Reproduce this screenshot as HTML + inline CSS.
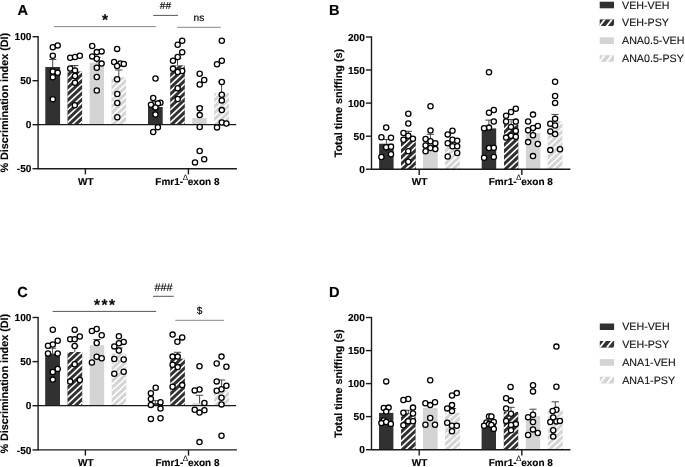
<!DOCTYPE html>
<html lang="en"><head><meta charset="utf-8"><title>Figure</title>
<style>
html,body{margin:0;padding:0;background:#fff;}
body{width:685px;height:467px;overflow:hidden;}
text[font-weight="700"]{stroke:#000;stroke-width:0.14px;}
svg{display:block;will-change:transform;font-family:"Liberation Sans",Arial,sans-serif;text-rendering:geometricPrecision;}
</style></head><body>
<svg width="685" height="467" viewBox="0 0 685 467">
<rect width="685" height="467" fill="#fff"/>

<g id="pA"><text x="17.6" y="15.2" font-size="14.6" font-weight="700">A</text><rect x="45.3" y="67.0" width="14.8" height="57.7" fill="#313131"/><rect x="67.50" y="71.50" width="14.60" height="53.20" fill="#313131"/><path d="M67.50 73.30L67.50 71.50L69.42 71.50ZM67.50 79.60L67.50 77.40L73.82 71.50L76.16 71.50ZM82.10 72.24L67.50 85.90L67.50 83.70L80.55 71.50L82.10 71.50ZM67.50 92.20L67.50 90.00L82.10 76.35L82.10 78.54ZM67.50 98.50L67.50 96.30L82.10 82.65L82.10 84.84ZM67.50 104.80L67.50 102.60L82.10 88.95L82.10 91.14ZM67.50 111.10L67.50 108.90L82.10 95.25L82.10 97.44ZM67.50 117.40L67.50 115.20L82.10 101.55L82.10 103.74ZM67.50 123.70L67.50 121.50L82.10 107.85L82.10 110.04ZM73.16 124.70L70.82 124.70L82.10 114.15L82.10 116.34ZM79.90 124.70L77.56 124.70L82.10 120.45L82.10 122.64Z" fill="#fff"/><rect x="89.6" y="62.8" width="14.4" height="61.9" fill="#d4d4d4"/><rect x="111.50" y="77.20" width="14.60" height="47.50" fill="#d4d4d4"/><path d="M111.50 79.60L111.50 77.40L111.72 77.20L114.06 77.20ZM111.50 85.90L111.50 83.70L118.46 77.20L120.80 77.20ZM126.10 78.54L111.50 92.20L111.50 90.00L125.19 77.20L126.10 77.20ZM111.50 98.50L111.50 96.30L126.10 82.65L126.10 84.84ZM111.50 104.80L111.50 102.60L126.10 88.95L126.10 91.14ZM111.50 111.10L111.50 108.90L126.10 95.25L126.10 97.44ZM111.50 117.40L111.50 115.20L126.10 101.55L126.10 103.74ZM111.50 123.70L111.50 121.50L126.10 107.85L126.10 110.04ZM117.16 124.70L114.82 124.70L126.10 114.15L126.10 116.34ZM123.90 124.70L121.56 124.70L126.10 120.45L126.10 122.64Z" fill="#fff"/><rect x="148.0" y="107.0" width="14.7" height="17.7" fill="#313131"/><rect x="170.20" y="65.40" width="14.60" height="59.30" fill="#313131"/><path d="M170.20 67.00L170.20 65.40L171.91 65.40ZM170.20 73.30L170.20 71.10L176.30 65.40L178.64 65.40ZM184.80 65.94L170.20 79.60L170.20 77.40L183.04 65.40L184.80 65.40ZM170.20 85.90L170.20 83.70L184.80 70.05L184.80 72.24ZM170.20 92.20L170.20 90.00L184.80 76.35L184.80 78.54ZM170.20 98.50L170.20 96.30L184.80 82.65L184.80 84.84ZM170.20 104.80L170.20 102.60L184.80 88.95L184.80 91.14ZM170.20 111.10L170.20 108.90L184.80 95.25L184.80 97.44ZM170.20 117.40L170.20 115.20L184.80 101.55L184.80 103.74ZM170.20 123.70L170.20 121.50L184.80 107.85L184.80 110.04ZM175.86 124.70L173.52 124.70L184.80 114.15L184.80 116.34ZM182.60 124.70L180.26 124.70L184.80 120.45L184.80 122.64Z" fill="#fff"/><rect x="192.2" y="118.0" width="14.6" height="6.7" fill="#d4d4d4"/><rect x="214.20" y="93.20" width="14.80" height="31.50" fill="#d4d4d4"/><path d="M214.20 98.50L214.20 96.30L217.52 93.20L219.86 93.20ZM214.20 104.80L214.20 102.60L224.26 93.20L226.60 93.20ZM214.20 111.10L214.20 108.90L229.00 95.07L229.00 97.26ZM214.20 117.40L214.20 115.20L229.00 101.37L229.00 103.56ZM214.20 123.70L214.20 121.50L229.00 107.67L229.00 109.86ZM219.86 124.70L217.52 124.70L229.00 113.97L229.00 116.16ZM226.60 124.70L224.26 124.70L229.00 120.27L229.00 122.46Z" fill="#fff"/><path d="M52.7 67.0V59.5M49.1 59.5H56.4" stroke="#333" stroke-width="0.9" fill="none"/><path d="M74.8 71.5V65.5M71.1 65.5H78.5" stroke="#333" stroke-width="0.9" fill="none"/><path d="M96.8 62.8V57.5M93.1 57.5H100.5" stroke="#333" stroke-width="0.9" fill="none"/><path d="M118.8 77.2V70.0M115.1 70.0H122.5" stroke="#333" stroke-width="0.9" fill="none"/><path d="M155.3 107.0V101.5M151.7 101.5H159.0" stroke="#333" stroke-width="0.9" fill="none"/><path d="M177.5 65.4V58.5M173.8 58.5H181.2" stroke="#333" stroke-width="0.9" fill="none"/><path d="M199.5 118.0V106.7M195.8 106.7H203.2" stroke="#333" stroke-width="0.9" fill="none"/><path d="M221.6 93.2V82.0M217.9 82.0H225.2" stroke="#333" stroke-width="0.9" fill="none"/><path d="M38.1 124.7H236.2" stroke="#1a1a1a" stroke-width="1.25"/><path d="M38.1 36.1V169.3" stroke="#1a1a1a" stroke-width="1.4"/><path d="M32.5 36.7H38.1" stroke="#1a1a1a" stroke-width="1.4"/><text x="31.4" y="40.4" text-anchor="end" font-size="10.1" font-weight="700">100</text><path d="M32.5 80.7H38.1" stroke="#1a1a1a" stroke-width="1.4"/><text x="31.4" y="84.4" text-anchor="end" font-size="10.1" font-weight="700">50</text><path d="M32.5 124.7H38.1" stroke="#1a1a1a" stroke-width="1.4"/><text x="31.4" y="128.3" text-anchor="end" font-size="10.1" font-weight="700">0</text><path d="M32.5 168.7H38.1" stroke="#1a1a1a" stroke-width="1.4"/><text x="31.4" y="172.3" text-anchor="end" font-size="10.1" font-weight="700">-50</text><text transform="translate(8.1 102.7) rotate(-90)" text-anchor="middle" font-size="10.8" font-weight="700">% Discrimination index (DI)</text><path d="M38.1 168.7H236.9" stroke="#1a1a1a" stroke-width="1.4"/><path d="M85.4 168.7V174.4" stroke="#1a1a1a" stroke-width="1.4"/><text x="85.8" y="185.0" text-anchor="middle" font-size="10" font-weight="700">WT</text><path d="M188.4 168.7V174.4" stroke="#1a1a1a" stroke-width="1.4"/><text x="187.4" y="185.0" text-anchor="middle" font-size="10" font-weight="700">Fmr1-<tspan dy="-5" dx="-0.5" font-size="8" font-weight="400" stroke="none">&#916;</tspan><tspan dy="5" dx="-0.2">exon 8</tspan></text><g fill="#fff" stroke="#000" stroke-width="1.3"><circle cx="52.8" cy="47.2" r="2.62"/><circle cx="57.7" cy="45.4" r="2.62"/><circle cx="52.8" cy="55.7" r="2.62"/><circle cx="52.8" cy="71.5" r="2.62"/><circle cx="57.7" cy="72.7" r="2.62"/><circle cx="52.8" cy="77.2" r="2.62"/><circle cx="52.8" cy="99.2" r="2.62"/><circle cx="70.2" cy="57.7" r="2.62"/><circle cx="75.0" cy="57.0" r="2.62"/><circle cx="79.8" cy="55.7" r="2.62"/><circle cx="70.2" cy="68.5" r="2.62"/><circle cx="75.0" cy="70.4" r="2.62"/><circle cx="75.0" cy="76.0" r="2.62"/><circle cx="75.0" cy="82.7" r="2.62"/><circle cx="74.8" cy="105.2" r="2.62"/><circle cx="92.2" cy="46.0" r="2.62"/><circle cx="101.6" cy="51.4" r="2.62"/><circle cx="96.8" cy="52.1" r="2.62"/><circle cx="92.2" cy="56.4" r="2.62"/><circle cx="96.8" cy="58.8" r="2.62"/><circle cx="101.6" cy="63.6" r="2.62"/><circle cx="96.8" cy="67.7" r="2.62"/><circle cx="96.8" cy="77.0" r="2.62"/><circle cx="96.8" cy="90.5" r="2.62"/><circle cx="117.1" cy="48.9" r="2.62"/><circle cx="114.1" cy="62.0" r="2.62"/><circle cx="120.3" cy="63.4" r="2.62"/><circle cx="123.8" cy="63.9" r="2.62"/><circle cx="117.1" cy="66.0" r="2.62"/><circle cx="117.1" cy="79.2" r="2.62"/><circle cx="117.3" cy="94.0" r="2.62"/><circle cx="117.3" cy="103.0" r="2.62"/><circle cx="117.3" cy="117.2" r="2.62"/><circle cx="155.5" cy="78.5" r="2.62"/><circle cx="153.2" cy="98.0" r="2.62"/><circle cx="151.0" cy="104.8" r="2.62"/><circle cx="160.4" cy="102.8" r="2.62"/><circle cx="157.9" cy="103.5" r="2.62"/><circle cx="155.5" cy="107.4" r="2.62"/><circle cx="155.5" cy="114.5" r="2.62"/><circle cx="157.9" cy="127.3" r="2.62"/><circle cx="153.2" cy="132.0" r="2.62"/><circle cx="182.2" cy="40.8" r="2.62"/><circle cx="177.7" cy="44.7" r="2.62"/><circle cx="182.2" cy="52.2" r="2.62"/><circle cx="177.7" cy="57.0" r="2.62"/><circle cx="173.0" cy="60.8" r="2.62"/><circle cx="173.0" cy="68.7" r="2.62"/><circle cx="182.2" cy="71.0" r="2.62"/><circle cx="177.7" cy="72.0" r="2.62"/><circle cx="177.7" cy="88.2" r="2.62"/><circle cx="177.7" cy="99.0" r="2.62"/><circle cx="199.7" cy="73.7" r="2.62"/><circle cx="204.2" cy="80.0" r="2.62"/><circle cx="199.7" cy="84.5" r="2.62"/><circle cx="199.7" cy="108.2" r="2.62"/><circle cx="199.7" cy="115.1" r="2.62"/><circle cx="199.7" cy="127.0" r="2.62"/><circle cx="199.7" cy="151.0" r="2.62"/><circle cx="204.2" cy="159.2" r="2.62"/><circle cx="195.0" cy="162.4" r="2.62"/><circle cx="221.8" cy="40.8" r="2.62"/><circle cx="221.8" cy="60.8" r="2.62"/><circle cx="217.0" cy="64.2" r="2.62"/><circle cx="221.8" cy="82.0" r="2.62"/><circle cx="221.8" cy="94.7" r="2.62"/><circle cx="221.8" cy="100.4" r="2.62"/><circle cx="221.8" cy="110.1" r="2.62"/><circle cx="221.8" cy="122.5" r="2.62"/><circle cx="226.4" cy="123.5" r="2.62"/><circle cx="217.0" cy="127.4" r="2.62"/></g><path d="M54 26.6H155.8" stroke="#777" stroke-width="0.9"/><text x="104.9" y="25.4" text-anchor="middle" font-size="15.5" font-weight="700">*</text><path d="M153.2 15.4H178" stroke="#555" stroke-width="1"/><text x="165.4" y="9.2" text-anchor="middle" font-size="10.2" fill="#000" stroke="#000" stroke-width="0.15">##</text><path d="M177.2 27.3H220.7" stroke="#777" stroke-width="0.9"/><text x="199" y="20.8" text-anchor="middle" font-size="10.2" fill="#000" stroke="#000" stroke-width="0.15">ns</text></g><g id="pB"><text x="329" y="14.6" font-size="14.6" font-weight="700">B</text><rect x="379.1" y="143.7" width="14.5" height="25.5" fill="#313131"/><rect x="401.00" y="137.70" width="14.80" height="31.50" fill="#313131"/><path d="M401.00 143.00L401.00 140.80L404.32 137.70L406.66 137.70ZM401.00 149.30L401.00 147.10L411.06 137.70L413.40 137.70ZM401.00 155.60L401.00 153.40L415.80 139.57L415.80 141.76ZM401.00 161.90L401.00 159.70L415.80 145.87L415.80 148.06ZM401.00 168.20L401.00 166.00L415.80 152.17L415.80 154.36ZM406.66 169.20L404.32 169.20L415.80 158.47L415.80 160.66ZM413.40 169.20L411.06 169.20L415.80 164.77L415.80 166.96Z" fill="#fff"/><rect x="423.0" y="140.0" width="14.7" height="29.2" fill="#d4d4d4"/><rect x="445.00" y="145.20" width="14.70" height="24.00" fill="#d4d4d4"/><path d="M445.00 149.30L445.00 147.10L447.04 145.20L449.38 145.20ZM445.00 155.60L445.00 153.40L453.78 145.20L456.12 145.20ZM445.00 161.90L445.00 159.70L459.70 145.96L459.70 148.15ZM445.00 168.20L445.00 166.00L459.70 152.26L459.70 154.45ZM450.66 169.20L448.32 169.20L459.70 158.56L459.70 160.75ZM457.40 169.20L455.06 169.20L459.70 164.86L459.70 167.05Z" fill="#fff"/><rect x="481.7" y="128.4" width="14.5" height="40.8" fill="#313131"/><rect x="504.00" y="124.30" width="14.30" height="44.90" fill="#313131"/><path d="M504.00 130.40L504.00 128.20L508.18 124.30L510.52 124.30ZM504.00 136.70L504.00 134.50L514.91 124.30L517.26 124.30ZM504.00 143.00L504.00 140.80L518.30 127.43L518.30 129.62ZM504.00 149.30L504.00 147.10L518.30 133.73L518.30 135.92ZM504.00 155.60L504.00 153.40L518.30 140.03L518.30 142.22ZM504.00 161.90L504.00 159.70L518.30 146.33L518.30 148.52ZM504.00 168.20L504.00 166.00L518.30 152.63L518.30 154.82ZM509.66 169.20L507.32 169.20L518.30 158.93L518.30 161.12ZM516.40 169.20L514.06 169.20L518.30 165.23L518.30 167.42Z" fill="#fff"/><rect x="525.9" y="133.0" width="14.4" height="36.2" fill="#d4d4d4"/><rect x="547.70" y="121.30" width="14.70" height="47.90" fill="#d4d4d4"/><path d="M547.70 124.10L547.70 121.90L548.35 121.30L550.69 121.30ZM547.70 130.40L547.70 128.20L555.08 121.30L557.43 121.30ZM562.40 122.95L547.70 136.70L547.70 134.50L561.82 121.30L562.40 121.30ZM547.70 143.00L547.70 140.80L562.40 127.06L562.40 129.25ZM547.70 149.30L547.70 147.10L562.40 133.36L562.40 135.55ZM547.70 155.60L547.70 153.40L562.40 139.66L562.40 141.85ZM547.70 161.90L547.70 159.70L562.40 145.96L562.40 148.15ZM547.70 168.20L547.70 166.00L562.40 152.26L562.40 154.45ZM553.36 169.20L551.02 169.20L562.40 158.56L562.40 160.75ZM560.10 169.20L557.76 169.20L562.40 164.86L562.40 167.05Z" fill="#fff"/><path d="M386.4 143.7V139.5M382.7 139.5H390.0" stroke="#333" stroke-width="0.9" fill="none"/><path d="M408.4 137.7V131.3M404.8 131.3H412.0" stroke="#333" stroke-width="0.9" fill="none"/><path d="M430.4 140.0V134.3M426.7 134.3H434.0" stroke="#333" stroke-width="0.9" fill="none"/><path d="M452.4 145.2V141.5M448.7 141.5H456.0" stroke="#333" stroke-width="0.9" fill="none"/><path d="M488.9 128.4V120.1M485.3 120.1H492.6" stroke="#333" stroke-width="0.9" fill="none"/><path d="M511.1 124.3V119.5M507.5 119.5H514.8" stroke="#333" stroke-width="0.9" fill="none"/><path d="M533.1 133.0V128.5M529.4 128.5H536.7" stroke="#333" stroke-width="0.9" fill="none"/><path d="M555.0 121.3V114.4M551.4 114.4H558.7" stroke="#333" stroke-width="0.9" fill="none"/><path d="M371.5 36.4V169.8" stroke="#1a1a1a" stroke-width="1.4"/><path d="M365.9 37.0H371.5" stroke="#1a1a1a" stroke-width="1.4"/><text x="364.8" y="40.6" text-anchor="end" font-size="10.1" font-weight="700">200</text><path d="M365.9 70.0H371.5" stroke="#1a1a1a" stroke-width="1.4"/><text x="364.8" y="73.7" text-anchor="end" font-size="10.1" font-weight="700">150</text><path d="M365.9 103.1H371.5" stroke="#1a1a1a" stroke-width="1.4"/><text x="364.8" y="106.8" text-anchor="end" font-size="10.1" font-weight="700">100</text><path d="M365.9 136.2H371.5" stroke="#1a1a1a" stroke-width="1.4"/><text x="364.8" y="139.8" text-anchor="end" font-size="10.1" font-weight="700">50</text><path d="M365.9 169.2H371.5" stroke="#1a1a1a" stroke-width="1.4"/><text x="364.8" y="172.8" text-anchor="end" font-size="10.1" font-weight="700">0</text><text transform="translate(342.4 103.1) rotate(-90)" text-anchor="middle" font-size="10.8" font-weight="700">Total time sniffing (s)</text><path d="M371.5 169.2H570.4" stroke="#1a1a1a" stroke-width="1.4"/><path d="M419.2 169.2V174.9" stroke="#1a1a1a" stroke-width="1.4"/><text x="419.6" y="185.0" text-anchor="middle" font-size="10" font-weight="700">WT</text><path d="M521.8 169.2V174.9" stroke="#1a1a1a" stroke-width="1.4"/><text x="520.8" y="185.0" text-anchor="middle" font-size="10" font-weight="700">Fmr1-<tspan dy="-5" dx="-0.5" font-size="8" font-weight="400" stroke="none">&#916;</tspan><tspan dy="5" dx="-0.2">exon 8</tspan></text><g fill="#fff" stroke="#000" stroke-width="1.3"><circle cx="386.2" cy="127.5" r="2.62"/><circle cx="381.4" cy="137.3" r="2.62"/><circle cx="391.0" cy="137.7" r="2.62"/><circle cx="386.2" cy="147.2" r="2.62"/><circle cx="391.0" cy="146.7" r="2.62"/><circle cx="391.0" cy="154.2" r="2.62"/><circle cx="381.4" cy="157.0" r="2.62"/><circle cx="408.3" cy="113.7" r="2.62"/><circle cx="408.3" cy="123.5" r="2.62"/><circle cx="403.5" cy="133.0" r="2.62"/><circle cx="408.3" cy="135.8" r="2.62"/><circle cx="412.9" cy="138.8" r="2.62"/><circle cx="403.5" cy="139.7" r="2.62"/><circle cx="408.3" cy="151.2" r="2.62"/><circle cx="408.3" cy="161.7" r="2.62"/><circle cx="430.5" cy="106.2" r="2.62"/><circle cx="430.5" cy="130.5" r="2.62"/><circle cx="425.6" cy="139.0" r="2.62"/><circle cx="430.5" cy="141.2" r="2.62"/><circle cx="435.3" cy="143.3" r="2.62"/><circle cx="425.6" cy="145.5" r="2.62"/><circle cx="430.5" cy="148.0" r="2.62"/><circle cx="435.3" cy="149.0" r="2.62"/><circle cx="425.6" cy="151.2" r="2.62"/><circle cx="452.5" cy="130.7" r="2.62"/><circle cx="447.7" cy="134.4" r="2.62"/><circle cx="452.5" cy="139.7" r="2.62"/><circle cx="457.2" cy="140.7" r="2.62"/><circle cx="447.7" cy="143.3" r="2.62"/><circle cx="452.5" cy="146.3" r="2.62"/><circle cx="457.2" cy="146.3" r="2.62"/><circle cx="457.2" cy="153.0" r="2.62"/><circle cx="447.7" cy="156.5" r="2.62"/><circle cx="489.0" cy="72.3" r="2.62"/><circle cx="493.8" cy="110.0" r="2.62"/><circle cx="489.0" cy="112.8" r="2.62"/><circle cx="493.8" cy="121.5" r="2.62"/><circle cx="489.0" cy="127.6" r="2.62"/><circle cx="484.1" cy="128.3" r="2.62"/><circle cx="489.0" cy="148.0" r="2.62"/><circle cx="493.8" cy="147.7" r="2.62"/><circle cx="484.1" cy="157.7" r="2.62"/><circle cx="493.8" cy="156.9" r="2.62"/><circle cx="515.8" cy="108.8" r="2.62"/><circle cx="511.0" cy="112.0" r="2.62"/><circle cx="506.1" cy="115.8" r="2.62"/><circle cx="506.1" cy="121.5" r="2.62"/><circle cx="515.8" cy="121.6" r="2.62"/><circle cx="511.0" cy="126.9" r="2.62"/><circle cx="515.8" cy="130.9" r="2.62"/><circle cx="511.0" cy="135.7" r="2.62"/><circle cx="515.8" cy="136.8" r="2.62"/><circle cx="506.1" cy="137.6" r="2.62"/><circle cx="533.0" cy="114.6" r="2.62"/><circle cx="528.1" cy="121.5" r="2.62"/><circle cx="537.8" cy="125.9" r="2.62"/><circle cx="533.0" cy="128.0" r="2.62"/><circle cx="528.1" cy="130.2" r="2.62"/><circle cx="533.0" cy="135.2" r="2.62"/><circle cx="528.1" cy="142.1" r="2.62"/><circle cx="537.8" cy="144.0" r="2.62"/><circle cx="533.0" cy="156.1" r="2.62"/><circle cx="555.1" cy="81.8" r="2.62"/><circle cx="555.1" cy="96.0" r="2.62"/><circle cx="555.1" cy="102.9" r="2.62"/><circle cx="555.1" cy="118.7" r="2.62"/><circle cx="550.3" cy="123.7" r="2.62"/><circle cx="555.1" cy="125.5" r="2.62"/><circle cx="550.3" cy="131.4" r="2.62"/><circle cx="555.1" cy="134.1" r="2.62"/><circle cx="550.3" cy="150.1" r="2.62"/><circle cx="560.0" cy="149.3" r="2.62"/></g></g><g id="pC"><text x="17.2" y="296.8" font-size="14.6" font-weight="700">C</text><rect x="45.2" y="353.5" width="14.8" height="52.2" fill="#313131"/><rect x="67.50" y="352.00" width="14.70" height="53.70" fill="#313131"/><path d="M67.50 354.30L67.50 352.10L67.61 352.00L69.95 352.00ZM67.50 360.60L67.50 358.40L74.35 352.00L76.69 352.00ZM82.20 353.15L67.50 366.90L67.50 364.70L81.09 352.00L82.20 352.00ZM67.50 373.20L67.50 371.00L82.20 357.26L82.20 359.45ZM67.50 379.50L67.50 377.30L82.20 363.56L82.20 365.75ZM67.50 385.80L67.50 383.60L82.20 369.86L82.20 372.05ZM67.50 392.10L67.50 389.90L82.20 376.16L82.20 378.35ZM67.50 398.40L67.50 396.20L82.20 382.46L82.20 384.65ZM67.50 404.70L67.50 402.50L82.20 388.76L82.20 390.95ZM73.16 405.70L70.82 405.70L82.20 395.06L82.20 397.25ZM79.90 405.70L77.56 405.70L82.20 401.36L82.20 403.55Z" fill="#fff"/><rect x="89.7" y="345.2" width="14.5" height="60.5" fill="#d4d4d4"/><rect x="111.70" y="353.50" width="14.50" height="52.20" fill="#d4d4d4"/><path d="M111.70 354.30L111.70 353.50L112.55 353.50ZM111.70 360.60L111.70 358.40L116.95 353.50L119.29 353.50ZM111.70 366.90L111.70 364.70L123.68 353.50L126.03 353.50ZM111.70 373.20L111.70 371.00L126.20 357.45L126.20 359.64ZM111.70 379.50L111.70 377.30L126.20 363.75L126.20 365.94ZM111.70 385.80L111.70 383.60L126.20 370.05L126.20 372.24ZM111.70 392.10L111.70 389.90L126.20 376.35L126.20 378.54ZM111.70 398.40L111.70 396.20L126.20 382.65L126.20 384.84ZM111.70 404.70L111.70 402.50L126.20 388.95L126.20 391.14ZM117.36 405.70L115.02 405.70L126.20 395.25L126.20 397.44ZM124.10 405.70L121.76 405.70L126.20 401.55L126.20 403.74Z" fill="#fff"/><rect x="148.0" y="403.2" width="14.7" height="2.5" fill="#313131"/><rect x="170.20" y="358.70" width="14.70" height="47.00" fill="#313131"/><path d="M170.20 360.60L170.20 358.70L172.23 358.70ZM170.20 366.90L170.20 364.70L176.62 358.70L178.96 358.70ZM184.90 359.45L170.20 373.20L170.20 371.00L183.36 358.70L184.90 358.70ZM170.20 379.50L170.20 377.30L184.90 363.56L184.90 365.75ZM170.20 385.80L170.20 383.60L184.90 369.86L184.90 372.05ZM170.20 392.10L170.20 389.90L184.90 376.16L184.90 378.35ZM170.20 398.40L170.20 396.20L184.90 382.46L184.90 384.65ZM170.20 404.70L170.20 402.50L184.90 388.76L184.90 390.95ZM175.86 405.70L173.52 405.70L184.90 395.06L184.90 397.25ZM182.60 405.70L180.26 405.70L184.90 401.36L184.90 403.55Z" fill="#fff"/><rect x="192.2" y="403.3" width="14.7" height="2.4" fill="#d4d4d4"/><rect x="214.30" y="390.30" width="14.60" height="15.40" fill="#d4d4d4"/><path d="M214.30 392.10L214.30 390.30L216.22 390.30ZM214.30 398.40L214.30 396.20L220.62 390.30L222.96 390.30ZM228.90 391.04L214.30 404.70L214.30 402.50L227.35 390.30L228.90 390.30ZM219.96 405.70L217.62 405.70L228.90 395.15L228.90 397.34ZM226.70 405.70L224.36 405.70L228.90 401.45L228.90 403.64Z" fill="#fff"/><path d="M52.6 353.5V348.2M49.0 348.2H56.2" stroke="#333" stroke-width="0.9" fill="none"/><path d="M74.8 352.0V346.0M71.2 346.0H78.5" stroke="#333" stroke-width="0.9" fill="none"/><path d="M97.0 345.2V339.5M93.3 339.5H100.6" stroke="#333" stroke-width="0.9" fill="none"/><path d="M119.0 353.5V348.0M115.3 348.0H122.6" stroke="#333" stroke-width="0.9" fill="none"/><path d="M155.3 403.2V400.6M151.7 400.6H159.0" stroke="#333" stroke-width="0.9" fill="none"/><path d="M177.6 358.7V352.3M173.9 352.3H181.2" stroke="#333" stroke-width="0.9" fill="none"/><path d="M199.6 403.3V395.3M195.9 395.3H203.2" stroke="#333" stroke-width="0.9" fill="none"/><path d="M221.6 390.3V380.0M218.0 380.0H225.3" stroke="#333" stroke-width="0.9" fill="none"/><path d="M38.1 405.7H236.2" stroke="#1a1a1a" stroke-width="1.25"/><path d="M38.1 316.9V450.5" stroke="#1a1a1a" stroke-width="1.4"/><path d="M32.5 317.5H38.1" stroke="#1a1a1a" stroke-width="1.4"/><text x="31.4" y="321.1" text-anchor="end" font-size="10.1" font-weight="700">100</text><path d="M32.5 361.6H38.1" stroke="#1a1a1a" stroke-width="1.4"/><text x="31.4" y="365.2" text-anchor="end" font-size="10.1" font-weight="700">50</text><path d="M32.5 405.7H38.1" stroke="#1a1a1a" stroke-width="1.4"/><text x="31.4" y="409.3" text-anchor="end" font-size="10.1" font-weight="700">0</text><path d="M32.5 449.9H38.1" stroke="#1a1a1a" stroke-width="1.4"/><text x="31.4" y="453.5" text-anchor="end" font-size="10.1" font-weight="700">-50</text><text transform="translate(8.1 383.7) rotate(-90)" text-anchor="middle" font-size="10.8" font-weight="700">% Discrimination index (DI)</text><path d="M38.1 449.9H236.9" stroke="#1a1a1a" stroke-width="1.4"/><path d="M85.4 449.9V455.6" stroke="#1a1a1a" stroke-width="1.4"/><text x="85.8" y="466.0" text-anchor="middle" font-size="10" font-weight="700">WT</text><path d="M188.5 449.9V455.6" stroke="#1a1a1a" stroke-width="1.4"/><text x="187.5" y="466.0" text-anchor="middle" font-size="10" font-weight="700">Fmr1-<tspan dy="-5" dx="-0.5" font-size="8" font-weight="400" stroke="none">&#916;</tspan><tspan dy="5" dx="-0.2">exon 8</tspan></text><g fill="#fff" stroke="#000" stroke-width="1.3"><circle cx="52.8" cy="329.8" r="2.62"/><circle cx="57.7" cy="340.7" r="2.62"/><circle cx="52.8" cy="344.5" r="2.62"/><circle cx="48.0" cy="345.7" r="2.62"/><circle cx="48.0" cy="353.5" r="2.62"/><circle cx="57.7" cy="353.5" r="2.62"/><circle cx="57.7" cy="368.9" r="2.62"/><circle cx="52.8" cy="372.0" r="2.62"/><circle cx="52.8" cy="379.6" r="2.62"/><circle cx="74.7" cy="329.8" r="2.62"/><circle cx="79.8" cy="336.5" r="2.62"/><circle cx="70.2" cy="339.2" r="2.62"/><circle cx="74.7" cy="339.2" r="2.62"/><circle cx="74.7" cy="346.0" r="2.62"/><circle cx="74.7" cy="364.3" r="2.62"/><circle cx="70.2" cy="381.5" r="2.62"/><circle cx="79.8" cy="380.0" r="2.62"/><circle cx="96.7" cy="329.0" r="2.62"/><circle cx="91.9" cy="331.0" r="2.62"/><circle cx="101.7" cy="335.2" r="2.62"/><circle cx="96.7" cy="343.0" r="2.62"/><circle cx="96.7" cy="356.8" r="2.62"/><circle cx="101.7" cy="358.3" r="2.62"/><circle cx="91.9" cy="362.5" r="2.62"/><circle cx="118.9" cy="336.2" r="2.62"/><circle cx="123.7" cy="341.9" r="2.62"/><circle cx="118.9" cy="343.3" r="2.62"/><circle cx="114.3" cy="346.4" r="2.62"/><circle cx="118.9" cy="350.5" r="2.62"/><circle cx="114.3" cy="359.0" r="2.62"/><circle cx="123.7" cy="359.5" r="2.62"/><circle cx="123.7" cy="371.7" r="2.62"/><circle cx="114.3" cy="373.7" r="2.62"/><circle cx="155.7" cy="387.8" r="2.62"/><circle cx="150.9" cy="393.3" r="2.62"/><circle cx="150.9" cy="399.0" r="2.62"/><circle cx="160.5" cy="402.2" r="2.62"/><circle cx="150.9" cy="404.9" r="2.62"/><circle cx="160.5" cy="408.6" r="2.62"/><circle cx="150.9" cy="418.9" r="2.62"/><circle cx="160.5" cy="418.2" r="2.62"/><circle cx="172.6" cy="334.6" r="2.62"/><circle cx="182.2" cy="337.4" r="2.62"/><circle cx="177.4" cy="341.8" r="2.62"/><circle cx="172.6" cy="356.6" r="2.62"/><circle cx="177.7" cy="356.6" r="2.62"/><circle cx="172.6" cy="364.7" r="2.62"/><circle cx="177.7" cy="367.1" r="2.62"/><circle cx="182.2" cy="385.1" r="2.62"/><circle cx="172.6" cy="386.8" r="2.62"/><circle cx="199.5" cy="366.3" r="2.62"/><circle cx="199.5" cy="389.5" r="2.62"/><circle cx="194.7" cy="390.4" r="2.62"/><circle cx="204.4" cy="403.0" r="2.62"/><circle cx="194.7" cy="409.7" r="2.62"/><circle cx="204.4" cy="410.2" r="2.62"/><circle cx="199.5" cy="412.6" r="2.62"/><circle cx="199.5" cy="442.1" r="2.62"/><circle cx="221.5" cy="356.6" r="2.62"/><circle cx="216.7" cy="363.5" r="2.62"/><circle cx="226.4" cy="366.8" r="2.62"/><circle cx="216.7" cy="381.4" r="2.62"/><circle cx="226.4" cy="385.8" r="2.62"/><circle cx="221.5" cy="389.2" r="2.62"/><circle cx="216.7" cy="390.8" r="2.62"/><circle cx="221.5" cy="397.7" r="2.62"/><circle cx="221.5" cy="404.4" r="2.62"/><circle cx="221.5" cy="435.7" r="2.62"/></g><path d="M52.6 311.4H156.2" stroke="#555" stroke-width="1"/><text x="105.3" y="310.4" text-anchor="middle" font-size="15.5" font-weight="700" letter-spacing="1.5">***</text><path d="M153 296.3H173.7" stroke="#555" stroke-width="1"/><text x="163.4" y="290.5" text-anchor="middle" font-size="10.8" fill="#000" stroke="#000" stroke-width="0.15">###</text><path d="M175.3 320.3H223.9" stroke="#777" stroke-width="0.9"/><text x="199.5" y="313.6" text-anchor="middle" font-size="10.2" fill="#000" stroke="#000" stroke-width="0.15">$</text></g><g id="pD"><text x="329" y="296.9" font-size="14.6" font-weight="700">D</text><rect x="379.0" y="412.9" width="14.4" height="36.8" fill="#313131"/><rect x="401.00" y="413.20" width="14.60" height="36.50" fill="#313131"/><path d="M401.00 417.20L401.00 415.00L402.93 413.20L405.27 413.20ZM401.00 423.50L401.00 421.30L409.67 413.20L412.01 413.20ZM401.00 429.80L401.00 427.60L415.60 413.95L415.60 416.14ZM401.00 436.10L401.00 433.90L415.60 420.25L415.60 422.44ZM401.00 442.40L401.00 440.20L415.60 426.55L415.60 428.74ZM401.00 448.70L401.00 446.50L415.60 432.85L415.60 435.04ZM406.66 449.70L404.32 449.70L415.60 439.15L415.60 441.34ZM413.40 449.70L411.06 449.70L415.60 445.45L415.60 447.64Z" fill="#fff"/><rect x="423.0" y="408.0" width="14.6" height="41.7" fill="#d4d4d4"/><rect x="445.10" y="412.90" width="14.80" height="36.80" fill="#d4d4d4"/><path d="M445.10 417.20L445.10 415.00L447.35 412.90L449.69 412.90ZM445.10 423.50L445.10 421.30L454.09 412.90L456.43 412.90ZM445.10 429.80L445.10 427.60L459.90 413.77L459.90 415.96ZM445.10 436.10L445.10 433.90L459.90 420.07L459.90 422.26ZM445.10 442.40L445.10 440.20L459.90 426.37L459.90 428.56ZM445.10 448.70L445.10 446.50L459.90 432.67L459.90 434.86ZM450.76 449.70L448.42 449.70L459.90 438.97L459.90 441.16ZM457.50 449.70L455.16 449.70L459.90 445.27L459.90 447.46Z" fill="#fff"/><rect x="481.6" y="423.3" width="14.4" height="26.4" fill="#313131"/><rect x="503.80" y="412.00" width="14.40" height="37.70" fill="#313131"/><path d="M503.80 417.20L503.80 415.00L507.01 412.00L509.36 412.00ZM503.80 423.50L503.80 421.30L513.75 412.00L516.09 412.00ZM503.80 429.80L503.80 427.60L518.20 414.14L518.20 416.33ZM503.80 436.10L503.80 433.90L518.20 420.44L518.20 422.63ZM503.80 442.40L503.80 440.20L518.20 426.74L518.20 428.93ZM503.80 448.70L503.80 446.50L518.20 433.04L518.20 435.23ZM509.46 449.70L507.12 449.70L518.20 439.34L518.20 441.53ZM516.20 449.70L513.86 449.70L518.20 445.64L518.20 447.83Z" fill="#fff"/><rect x="525.8" y="416.0" width="14.4" height="33.7" fill="#d4d4d4"/><rect x="547.90" y="410.00" width="14.80" height="39.70" fill="#d4d4d4"/><path d="M547.90 410.90L547.90 410.00L548.86 410.00ZM547.90 417.20L547.90 415.00L553.25 410.00L555.60 410.00ZM547.90 423.50L547.90 421.30L559.99 410.00L562.33 410.00ZM547.90 429.80L547.90 427.60L562.70 413.77L562.70 415.96ZM547.90 436.10L547.90 433.90L562.70 420.07L562.70 422.26ZM547.90 442.40L547.90 440.20L562.70 426.37L562.70 428.56ZM547.90 448.70L547.90 446.50L562.70 432.67L562.70 434.86ZM553.56 449.70L551.22 449.70L562.70 438.97L562.70 441.16ZM560.30 449.70L557.96 449.70L562.70 445.27L562.70 447.46Z" fill="#fff"/><path d="M386.2 412.9V409.0M382.6 409.0H389.8" stroke="#333" stroke-width="0.9" fill="none"/><path d="M408.3 413.2V410.2M404.7 410.2H411.9" stroke="#333" stroke-width="0.9" fill="none"/><path d="M430.3 408.0V402.5M426.7 402.5H433.9" stroke="#333" stroke-width="0.9" fill="none"/><path d="M452.5 412.9V408.5M448.9 408.5H456.1" stroke="#333" stroke-width="0.9" fill="none"/><path d="M488.8 423.3V421.0M485.2 421.0H492.4" stroke="#333" stroke-width="0.9" fill="none"/><path d="M511.0 412.0V407.3M507.4 407.3H514.6" stroke="#333" stroke-width="0.9" fill="none"/><path d="M533.0 416.0V409.2M529.4 409.2H536.6" stroke="#333" stroke-width="0.9" fill="none"/><path d="M555.3 410.0V401.8M551.6 401.8H558.9" stroke="#333" stroke-width="0.9" fill="none"/><path d="M371.5 316.9V450.3" stroke="#1a1a1a" stroke-width="1.4"/><path d="M365.9 317.5H371.5" stroke="#1a1a1a" stroke-width="1.4"/><text x="364.8" y="321.1" text-anchor="end" font-size="10.1" font-weight="700">200</text><path d="M365.9 350.6H371.5" stroke="#1a1a1a" stroke-width="1.4"/><text x="364.8" y="354.2" text-anchor="end" font-size="10.1" font-weight="700">150</text><path d="M365.9 383.6H371.5" stroke="#1a1a1a" stroke-width="1.4"/><text x="364.8" y="387.2" text-anchor="end" font-size="10.1" font-weight="700">100</text><path d="M365.9 416.6H371.5" stroke="#1a1a1a" stroke-width="1.4"/><text x="364.8" y="420.3" text-anchor="end" font-size="10.1" font-weight="700">50</text><path d="M365.9 449.7H371.5" stroke="#1a1a1a" stroke-width="1.4"/><text x="364.8" y="453.3" text-anchor="end" font-size="10.1" font-weight="700">0</text><text transform="translate(342.4 383.6) rotate(-90)" text-anchor="middle" font-size="10.8" font-weight="700">Total time sniffing (s)</text><path d="M371.5 449.7H570.4" stroke="#1a1a1a" stroke-width="1.4"/><path d="M419.2 449.7V455.4" stroke="#1a1a1a" stroke-width="1.4"/><text x="419.6" y="466.0" text-anchor="middle" font-size="10" font-weight="700">WT</text><path d="M521.8 449.7V455.4" stroke="#1a1a1a" stroke-width="1.4"/><text x="520.8" y="466.0" text-anchor="middle" font-size="10" font-weight="700">Fmr1-<tspan dy="-5" dx="-0.5" font-size="8" font-weight="400" stroke="none">&#916;</tspan><tspan dy="5" dx="-0.2">exon 8</tspan></text><g fill="#fff" stroke="#000" stroke-width="1.3"><circle cx="386.2" cy="381.4" r="2.62"/><circle cx="383.8" cy="407.9" r="2.62"/><circle cx="388.6" cy="407.6" r="2.62"/><circle cx="386.2" cy="411.6" r="2.62"/><circle cx="383.8" cy="420.4" r="2.62"/><circle cx="381.4" cy="423.1" r="2.62"/><circle cx="386.2" cy="422.0" r="2.62"/><circle cx="390.8" cy="423.9" r="2.62"/><circle cx="408.2" cy="399.0" r="2.62"/><circle cx="403.4" cy="400.0" r="2.62"/><circle cx="413.0" cy="407.6" r="2.62"/><circle cx="403.4" cy="412.7" r="2.62"/><circle cx="413.0" cy="413.5" r="2.62"/><circle cx="408.2" cy="421.2" r="2.62"/><circle cx="413.0" cy="421.2" r="2.62"/><circle cx="403.4" cy="425.2" r="2.62"/><circle cx="430.2" cy="380.3" r="2.62"/><circle cx="435.0" cy="402.3" r="2.62"/><circle cx="425.4" cy="403.2" r="2.62"/><circle cx="430.2" cy="405.1" r="2.62"/><circle cx="430.2" cy="418.0" r="2.62"/><circle cx="425.4" cy="424.7" r="2.62"/><circle cx="435.0" cy="424.7" r="2.62"/><circle cx="456.8" cy="393.1" r="2.62"/><circle cx="452.0" cy="395.5" r="2.62"/><circle cx="452.0" cy="405.1" r="2.62"/><circle cx="447.2" cy="408.4" r="2.62"/><circle cx="452.0" cy="411.1" r="2.62"/><circle cx="447.2" cy="422.8" r="2.62"/><circle cx="452.0" cy="425.7" r="2.62"/><circle cx="456.8" cy="425.7" r="2.62"/><circle cx="452.0" cy="431.2" r="2.62"/><circle cx="489.0" cy="416.4" r="2.62"/><circle cx="491.4" cy="416.4" r="2.62"/><circle cx="486.5" cy="422.5" r="2.62"/><circle cx="493.8" cy="422.0" r="2.62"/><circle cx="484.1" cy="425.7" r="2.62"/><circle cx="489.0" cy="424.1" r="2.62"/><circle cx="491.4" cy="424.9" r="2.62"/><circle cx="493.8" cy="428.9" r="2.62"/><circle cx="510.6" cy="386.9" r="2.62"/><circle cx="506.1" cy="398.2" r="2.62"/><circle cx="510.8" cy="400.6" r="2.62"/><circle cx="506.1" cy="408.5" r="2.62"/><circle cx="511.0" cy="413.7" r="2.62"/><circle cx="506.1" cy="420.9" r="2.62"/><circle cx="515.8" cy="424.1" r="2.62"/><circle cx="511.0" cy="424.9" r="2.62"/><circle cx="511.0" cy="430.2" r="2.62"/><circle cx="533.0" cy="385.3" r="2.62"/><circle cx="533.0" cy="391.4" r="2.62"/><circle cx="533.0" cy="414.8" r="2.62"/><circle cx="528.1" cy="417.2" r="2.62"/><circle cx="533.0" cy="422.0" r="2.62"/><circle cx="533.0" cy="429.4" r="2.62"/><circle cx="537.8" cy="433.0" r="2.62"/><circle cx="528.1" cy="435.0" r="2.62"/><circle cx="556.4" cy="346.6" r="2.62"/><circle cx="556.4" cy="386.7" r="2.62"/><circle cx="556.4" cy="409.7" r="2.62"/><circle cx="552.7" cy="411.0" r="2.62"/><circle cx="553.2" cy="417.4" r="2.62"/><circle cx="550.3" cy="422.0" r="2.62"/><circle cx="556.4" cy="421.4" r="2.62"/><circle cx="559.9" cy="420.9" r="2.62"/><circle cx="553.2" cy="430.2" r="2.62"/><circle cx="553.2" cy="436.6" r="2.62"/></g></g><rect x="599.7" y="1.7" width="14.3" height="6.6" fill="#313131"/><text x="622.0" y="8.6" font-size="10.7" fill="#111" stroke="#111" stroke-width="0.12">VEH-VEH</text><rect x="599.70" y="19.40" width="14.30" height="6.60" fill="#313131"/><path d="M600.74 26.00L599.70 26.00L599.70 24.39L603.54 19.40L605.81 19.40ZM607.94 26.00L605.66 26.00L610.74 19.40L613.01 19.40ZM612.86 26.00L614.00 24.52L614.00 26.00Z" fill="#fff"/><text x="622.0" y="26.2" font-size="10.7" fill="#111" stroke="#111" stroke-width="0.12">VEH-PSY</text><rect x="599.7" y="37.3" width="14.3" height="6.7" fill="#d4d4d4"/><text x="622.0" y="44.2" font-size="10.7" fill="#111" stroke="#111" stroke-width="0.12">ANA0.5-VEH</text><rect x="599.70" y="55.20" width="14.30" height="6.60" fill="#d4d4d4"/><path d="M600.74 61.80L599.70 61.80L599.70 60.19L603.54 55.20L605.81 55.20ZM607.94 61.80L605.66 61.80L610.74 55.20L613.01 55.20ZM612.86 61.80L614.00 60.32L614.00 61.80Z" fill="#fff"/><text x="622.0" y="62.0" font-size="10.7" fill="#111" stroke="#111" stroke-width="0.12">ANA0.5-PSY</text><rect x="599.8" y="323.5" width="14.3" height="6.5" fill="#313131"/><text x="622.2" y="330.3" font-size="10.7" fill="#111" stroke="#111" stroke-width="0.12">VEH-VEH</text><rect x="599.80" y="341.00" width="14.30" height="6.60" fill="#313131"/><path d="M600.84 347.60L599.80 347.60L599.80 345.99L603.64 341.00L605.91 341.00ZM608.04 347.60L605.76 347.60L610.84 341.00L613.11 341.00ZM612.96 347.60L614.10 346.12L614.10 347.60Z" fill="#fff"/><text x="622.2" y="347.9" font-size="10.7" fill="#111" stroke="#111" stroke-width="0.12">VEH-PSY</text><rect x="599.8" y="359.1" width="14.3" height="6.7" fill="#d4d4d4"/><text x="622.2" y="366.0" font-size="10.7" fill="#111" stroke="#111" stroke-width="0.12">ANA1-VEH</text><rect x="599.80" y="376.70" width="14.30" height="6.80" fill="#d4d4d4"/><path d="M600.84 383.50L599.80 383.50L599.80 381.89L603.80 376.70L606.07 376.70ZM608.04 383.50L605.76 383.50L611.00 376.70L613.27 376.70ZM612.96 383.50L614.10 382.02L614.10 383.50Z" fill="#fff"/><text x="622.2" y="383.7" font-size="10.7" fill="#111" stroke="#111" stroke-width="0.12">ANA1-PSY</text>
</svg>
</body></html>
